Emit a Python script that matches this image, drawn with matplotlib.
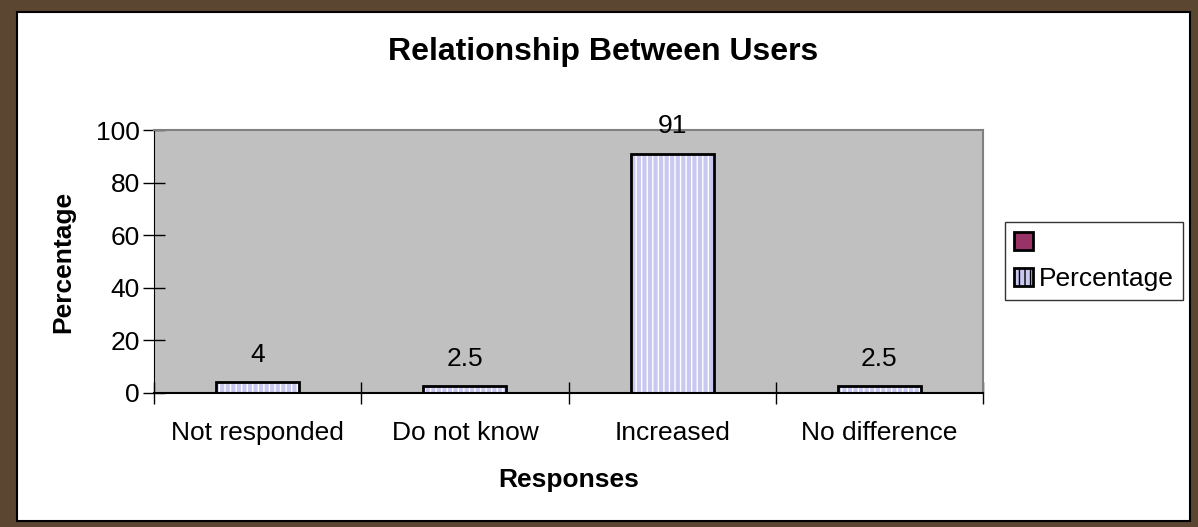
import matplotlib.pyplot as plt
from matplotlib.patches import Patch, Rectangle
import numpy as np

plt.rcParams['font.family'] = ['Liberation Sans', 'DejaVu Sans']

categories = ['Not responded', 'Do not know', 'Increased', 'No difference']
percentage = [4, 2.5, 91, 2.5]
value_labels = ['4', '2.5', '91', '2.5']

fig = plt.figure(figsize=(11.98, 5.27), dpi=100)
fig.patch.set_facecolor('#5b4632')

# white chart area with black border inside the wooden frame
fig.patches.append(Rectangle((17 / 1198, 1 - 521 / 527), 1173 / 1198, 509 / 527,
                             transform=fig.transFigure, facecolor='white',
                             edgecolor='black', linewidth=1.5, zorder=-1))

ax = fig.add_axes([154 / 1198, 1 - 393 / 527, 829 / 1198, 263 / 527])
ax.set_zorder(1)
ax.set_facecolor('#c0c0c0')

x = np.arange(len(categories))
# hatched fill, then black outline
ax.bar(x, percentage, width=0.40, color='#c8c8f0', edgecolor='white',
       hatch='|||', linewidth=0, zorder=2)
ax.bar(x, percentage, width=0.40, fill=False, edgecolor='black',
       linewidth=2, zorder=3)

for xi, v, lab in zip(x, percentage, value_labels):
    ax.annotate(lab, (xi, v), xytext=(0, 20), textcoords='offset points',
                ha='center', va='center', fontsize=19, clip_on=False)

ax.set_xlim(-0.5, len(categories) - 0.5)
ax.set_ylim(0, 100)
ax.set_yticks([0, 20, 40, 60, 80, 100])
ax.set_xticks(np.arange(-0.5, len(categories), 1.0))
ax.set_xticklabels([])
ax.set_xticks(x, minor=True)
ax.set_xticklabels(categories, minor=True, fontsize=19)
ax.tick_params(axis='x', which='major', direction='inout', length=16, width=1)
ax.tick_params(axis='x', which='minor', length=0, pad=20)
ax.tick_params(axis='y', direction='inout', length=16, width=1, labelsize=19, pad=2)

for s in ['top', 'right']:
    ax.spines[s].set_color('#808080')
    ax.spines[s].set_linewidth(1.5)
for s in ['left', 'bottom']:
    ax.spines[s].set_color('black')
ax.spines['bottom'].set_linewidth(1.5)

ax.set_ylabel('Percentage', fontsize=19, fontweight='bold', labelpad=15)
ax.set_xlabel('Responses', fontsize=19, fontweight='bold', labelpad=17)
fig.text(603 / 1198, 1 - 52 / 527, 'Relationship Between Users', ha='center',
         va='center', fontsize=23, fontweight='bold')

handles = [Patch(facecolor='#993366', edgecolor='black', linewidth=2),
           Patch(facecolor='#c8c8f0', edgecolor='black', linewidth=2, hatch='|||')]
leg = fig.legend(handles, [' ', 'Percentage'], loc='upper left',
                 bbox_to_anchor=(1005 / 1198, 1 - 222 / 527), fontsize=19,
                 frameon=True, fancybox=False, edgecolor='black',
                 handlelength=0.7, handleheight=0.7, handletextpad=0.25,
                 borderaxespad=0, borderpad=0.35, labelspacing=0.45)
leg.get_frame().set_linewidth(1)

fig.savefig('out.png', dpi=100, facecolor=fig.get_facecolor())
